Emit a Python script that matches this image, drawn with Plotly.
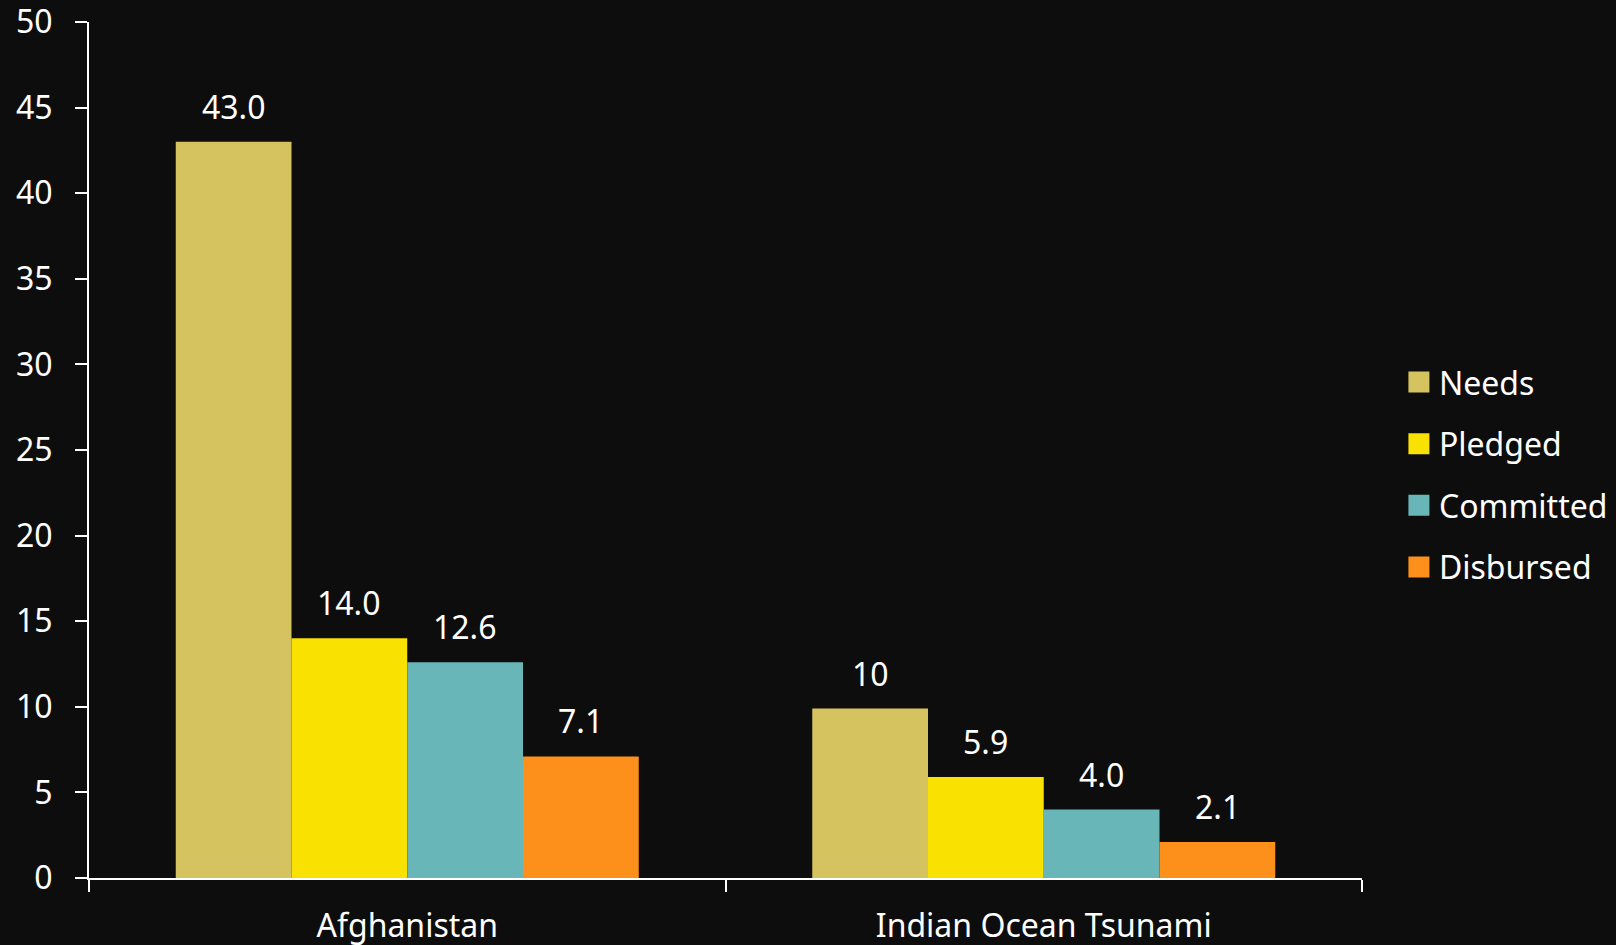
import plotly.graph_objects as go

categories = ["Afghanistan", "Indian Ocean Tsunami"]
series_names = ["Needs", "Pledged", "Committed", "Disbursed"]
needs = [43.0, 9.9]
pledged = [14.0, 5.9]
committed = [12.6, 4.0]
disbursed = [7.1, 2.1]
needs_labels = ["43.0", "10"]
pledged_labels = ["14.0", "5.9"]
committed_labels = ["12.6", "4.0"]
disbursed_labels = ["7.1", "2.1"]
y_ticks = [0, 5, 10, 15, 20, 25, 30, 35, 40, 45, 50]

colors = ["#d5c35f", "#f9e102", "#69b6b8", "#fd8f1b"]
values = [needs, pledged, committed, disbursed]
labels = [needs_labels, pledged_labels, committed_labels, disbursed_labels]

FONT = "Noto Sans"
FS = 32
BG = "#0d0d0d"
BARGAP = 0.2726

fig = go.Figure()
for name, vals, col in zip(series_names, values, colors):
    fig.add_trace(go.Bar(
        x=categories, y=vals, name=name, marker=dict(color=col, line=dict(width=0)),
        showlegend=False, hoverinfo="x+y+name",
    ))
# legend-only entries with larger square swatches
for i, (name, col) in enumerate(zip(series_names, colors)):
    fig.add_trace(go.Scatter(
        x=[None], y=[None], mode="markers", name=name, legendgroup=f"g{i}",
        marker=dict(symbol="square", size=16, color=col, line=dict(color=col, width=5)),
        hoverinfo="skip",
    ))

# value labels above each bar
n = len(series_names)
w = (1 - BARGAP) / n
annotations = []
for i, labs in enumerate(labels):
    off = -(1 - BARGAP) / 2 + (i + 0.5) * w
    for j, cat in enumerate(categories):
        annotations.append(dict(
            x=j + off, y=values[i][j], xref="x", yref="y", text=labs[j],
            showarrow=False, yanchor="bottom", xanchor="center", yshift=12,
            font=dict(family=FONT, size=FS, color="white"),
        ))

fig.update_layout(
    width=1616, height=945, autosize=False,
    paper_bgcolor=BG, plot_bgcolor=BG,
    margin=dict(l=89, r=254, t=22, b=67, autoexpand=False),
    barmode="group", bargap=BARGAP, bargroupgap=0,
    font=dict(family=FONT, size=FS, color="white"),
    annotations=annotations,
    legend=dict(
        x=1.029, xanchor="left", y=0.471, yanchor="middle",
        font=dict(family=FONT, size=FS, color="white"),
        bgcolor="rgba(0,0,0,0)", tracegroupgap=17, itemsizing="trace",
    ),
    xaxis=dict(
        type="category", range=[-0.5, 1.5], showgrid=False, zeroline=False,
        showline=True, linecolor="white", linewidth=2, automargin=False,
        ticks="outside", tickson="boundaries", ticklen=12, tickwidth=2, tickcolor="white",
        tickfont=dict(family=FONT, size=FS, color="white"), ticklabelstandoff=19,
        ticklabeloverflow="allow",
    ),
    yaxis=dict(
        range=[0, 50], tickvals=y_ticks, showgrid=False, zeroline=False,
        showline=True, linecolor="white", linewidth=2, automargin=False,
        ticks="outside", ticklen=12, tickwidth=2, tickcolor="white",
        tickfont=dict(family=FONT, size=FS, color="white"), ticklabelstandoff=16,
        ticklabeloverflow="allow",
    ),
)

fig.write_html(
    "out.html",
    config={"displayModeBar": False},
    post_script="document.body.style.margin='0';document.body.style.overflow='hidden';"
                "document.body.style.background='#0d0d0d';",
)
